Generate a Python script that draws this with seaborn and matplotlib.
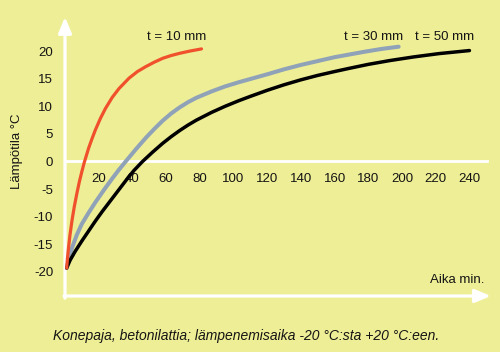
import numpy as np
import pandas as pd
import matplotlib
matplotlib.use("Agg")
import matplotlib.pyplot as plt
import seaborn as sns

# ---- data ----
red_t = [1, 1.5, 2.2, 3, 4.2, 5.5, 7.1, 8.5, 10.1, 11.5, 14, 16, 18, 21, 24, 28, 32,
         38, 43, 48, 53, 58, 63, 68, 74, 81]
red_v = [-19.3, -17.4, -15.3, -13.2, -10.6, -8.2, -5.7, -3.7, -1.7, -0.1, 2.4, 4.1, 5.7,
         7.8, 9.6, 11.6, 13.2, 15.1, 16.3, 17.2, 18.0, 18.7, 19.2, 19.6, 20.0, 20.4]

gray_t = [1, 2.5, 4.2, 7, 10, 14, 18, 23, 28, 32, 36, 42, 48, 53, 58, 63, 68, 73, 78,
          87, 95, 103, 110, 120, 130, 140, 150, 160, 169, 178, 188, 198]
gray_v = [-19.3, -17.4, -15.6, -13.3, -11.3, -9.3, -7.4, -5.2, -3.1, -1.5, 0.0, 2.2,
          4.3, 5.9, 7.4, 8.7, 9.8, 10.75, 11.55, 12.7, 13.6, 14.35, 14.95, 15.8, 16.7,
          17.5, 18.2, 18.9, 19.4, 19.9, 20.4, 20.8]

black_t = [1, 3, 6, 10, 14, 18, 22, 28, 32, 37, 41, 46, 52, 58, 63, 68, 73, 78, 87, 95,
           103, 110, 120, 130, 140, 150, 160, 169, 180, 193, 207, 222, 240]
black_v = [-19.3, -17.9, -16.3, -14.4, -12.6, -10.8, -9.1, -6.7, -5.1, -3.1, -1.6, 0.0,
           1.7, 3.3, 4.5, 5.6, 6.6, 7.5, 8.9, 10.0, 11.0, 11.8, 12.9, 13.9, 14.8, 15.6,
           16.3, 16.9, 17.6, 18.3, 18.95, 19.55, 20.1]

x_ticks = [20, 40, 60, 80, 100, 120, 140, 160, 180, 200, 220, 240]
y_ticks = [-20, -15, -10, -5, 0, 5, 10, 15, 20]
series_labels = ["t = 10 mm", "t = 30 mm", "t = 50 mm"]
label_pos_t = [66.5, 183.4, 225.5]
ylabel = "Lämpötila °C"
xlabel = "Aika min."
footnote = "Konepaja, betonilattia; lämpenemisaika -20 °C:sta +20 °C:een."

BG = "#EEEE96"
TXT = "#141414"

sns.set_style("white")
plt.rcParams["font.family"] = ["Liberation Sans", "DejaVu Sans"]
plt.rcParams["font.size"] = 9.5

fig = plt.figure(figsize=(5.0, 3.52), dpi=100, facecolor=BG)
ax = fig.add_axes([0.13, 56 / 352, 0.85, 279 / 352])
ax.set_facecolor(BG)

XMAX, YMIN, YMAX = 252.2, -24.37, 26.18
ax.set_xlim(0, XMAX)
ax.set_ylim(YMIN, YMAX)

df_r = pd.DataFrame({"t": red_t, "v": red_v})
df_g = pd.DataFrame({"t": gray_t, "v": gray_v})
df_b = pd.DataFrame({"t": black_t, "v": black_v})
sns.lineplot(data=df_g, x="t", y="v", ax=ax, color="#8FA2B8", linewidth=2.9, legend=False)
sns.lineplot(data=df_b, x="t", y="v", ax=ax, color="#000000", linewidth=2.5, legend=False)
sns.lineplot(data=df_r, x="t", y="v", ax=ax, color="#F0502C", linewidth=2.3, legend=False)
for ln in ax.get_lines():
    ln.set_solid_joinstyle("round")

# spines / axes
for s in ["top", "right", "left"]:
    ax.spines[s].set_visible(False)
ax.spines["bottom"].set_position(("data", 0))
ax.spines["bottom"].set_color("white")
ax.spines["bottom"].set_linewidth(2.0)
ax.spines["bottom"].set_bounds(0, 250.5)
ax.spines["bottom"].set_zorder(1)

ax.set_xticks(x_ticks)
ax.set_xticklabels([str(v) for v in x_ticks])
ax.tick_params(axis="x", direction="out", length=5, width=1.8, color="white",
               labelcolor=TXT, labelsize=9.5, pad=3)
ax.set_yticks(y_ticks)
ax.set_yticklabels([str(v) for v in y_ticks])
ax.tick_params(axis="y", length=0, labelcolor=TXT, labelsize=9.5, pad=8.5)

# arrows (white axes)
ap = dict(arrowstyle="-|>,head_width=0.42,head_length=1.0", color="white", lw=2.3,
          shrinkA=0, shrinkB=0)
ax.annotate("", xy=(0, YMAX), xytext=(0, YMIN - 0.4), arrowprops=ap, annotation_clip=False, zorder=1)
ax.annotate("", xy=(XMAX + 0.5, YMIN), xytext=(-0.6, YMIN), arrowprops=ap, annotation_clip=False, zorder=1)

# labels
for lab, tx in zip(series_labels, label_pos_t):
    ax.text(tx, 22.55, lab, ha="center", va="center", color=TXT, fontsize=9.5)
ax.text(248.7, -21.5, xlabel, ha="right", va="center", color=TXT, fontsize=9.5)
ax.set_xlabel("")
ax.set_ylabel(ylabel, color=TXT, fontsize=9.5, va="center", ha="center")
ax.yaxis.set_label_coords((17 - 65) / 425, (296 - 151) / 279)

fig.text(246 / 500, 1 - 336 / 352, footnote, ha="center", va="center",
         fontstyle="italic", color=TXT, fontsize=10)

fig.savefig("out.png", dpi=100, facecolor=BG)
